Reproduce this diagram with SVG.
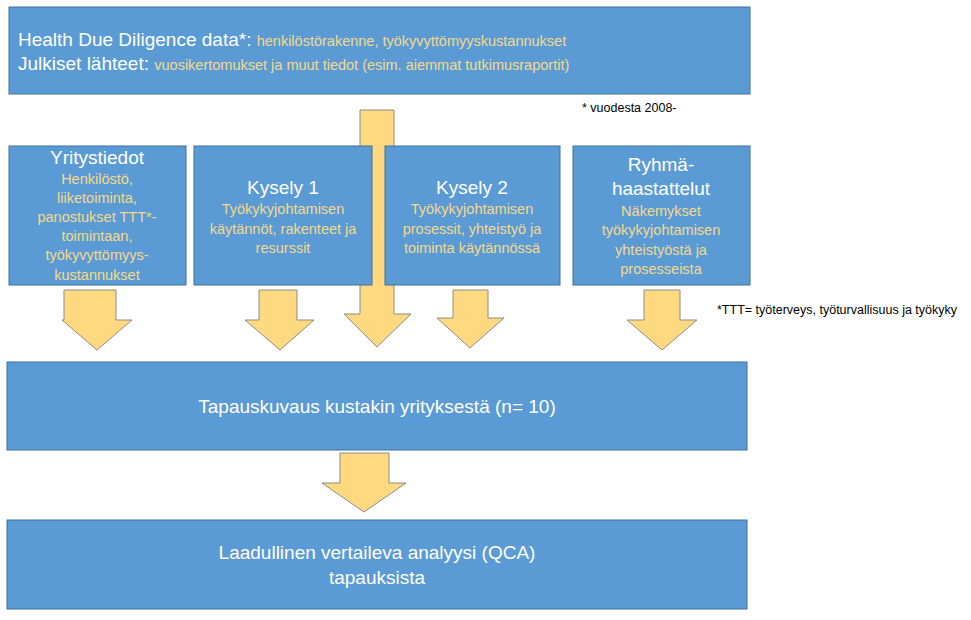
<svg xmlns="http://www.w3.org/2000/svg" width="971" height="620" viewBox="0 0 971 620">
<style>
.box{fill:#5b9bd5;stroke:#41719c;stroke-width:1}
.arr{fill:#ffd97f;stroke:#8c8c8c;stroke-width:1}
text{font-family:"Liberation Sans Narrow","Liberation Sans",Arial,sans-serif}
.t{fill:#fff;font-size:19px}
.y{fill:#f5d98a;font-size:14.5px}
.c{text-anchor:middle}
.n{fill:#000;font-size:12.5px}
</style>
<rect width="971" height="620" fill="#fff"/>
<g id="connectors">
<path class="arr" d="M360 110H394V314H411L377 347L344 314H360Z"/>
<path class="arr" d="M64 290H116V320H132L97 350L62 320H64Z"/>
<path class="arr" d="M259 290H297V320H314L280 350L245 320H259Z"/>
<path class="arr" d="M453 290H488V318H504L470 348L437 318H453Z"/>
<path class="arr" d="M644 290H680V320H697L662 350L627 320H644Z"/>
<path class="arr" d="M340 453H389V483H406L364 512L322 483H340Z"/>
</g>
<g id="top">
<rect class="box" x="9" y="7" width="741" height="87"/>
<text x="18" y="46" class="t">Health Due Diligence data*: <tspan class="y" style="font-size:14.5px">henkilöstörakenne, työkyvyttömyyskustannukset</tspan></text>
<text x="18" y="70" class="t">Julkiset lähteet: <tspan class="y" style="font-size:14.5px">vuosikertomukset ja muut tiedot (esim. aiemmat tutkimusraportit)</tspan></text>
</g>
<text x="582" y="112" class="n">* vuodesta 2008-</text>
<g id="yritystiedot">
<rect class="box" x="9" y="146" width="177" height="139"/>
<text x="97" y="164" class="t c">Yritystiedot</text>
<text class="y c"><tspan x="97" y="184">Henkilöstö,</tspan><tspan x="97" y="203">liiketoiminta,</tspan><tspan x="97" y="222">panostukset TTT*-</tspan><tspan x="97" y="241">toimintaan,</tspan><tspan x="97" y="260">työkyvyttömyys-</tspan><tspan x="97" y="280">kustannukset</tspan></text>
</g>
<g id="kysely1">
<rect class="box" x="194" y="146" width="178" height="139"/>
<text x="283" y="194" class="t c">Kysely 1</text>
<text class="y c"><tspan x="283" y="214">Työkykyjohtamisen</tspan><tspan x="283" y="234">käytännöt, rakenteet ja</tspan><tspan x="283" y="253">resurssit</tspan></text>
</g>
<g id="kysely2">
<rect class="box" x="385" y="146" width="175" height="139"/>
<text x="472" y="194" class="t c">Kysely 2</text>
<text class="y c"><tspan x="472" y="214">Työkykyjohtamisen</tspan><tspan x="472" y="234">prosessit, yhteistyö ja</tspan><tspan x="472" y="253">toiminta käytännössä</tspan></text>
</g>
<g id="ryhma">
<rect class="box" x="573" y="146" width="177" height="139"/>
<text class="t c"><tspan x="661" y="171">Ryhmä-</tspan><tspan x="661" y="195">haastattelut</tspan></text>
<text class="y c"><tspan x="661" y="216">Näkemykset</tspan><tspan x="661" y="235">työkykyjohtamisen</tspan><tspan x="661" y="255">yhteistyöstä ja</tspan><tspan x="661" y="274">prosesseista</tspan></text>
</g>
<text x="717" y="314" class="n">*TTT= työterveys, työturvallisuus ja työkyky</text>
<g id="tapauskuvaus">
<rect class="box" x="7" y="362" width="740" height="88"/>
<text x="377" y="413" class="t c">Tapauskuvaus kustakin yrityksestä (n= 10)</text>
</g>
<g id="qca">
<rect class="box" x="7" y="520" width="740" height="89"/>
<text class="t c"><tspan x="377" y="559">Laadullinen vertaileva analyysi (QCA)</tspan><tspan x="377" y="584">tapauksista</tspan></text>
</g>
</svg>
